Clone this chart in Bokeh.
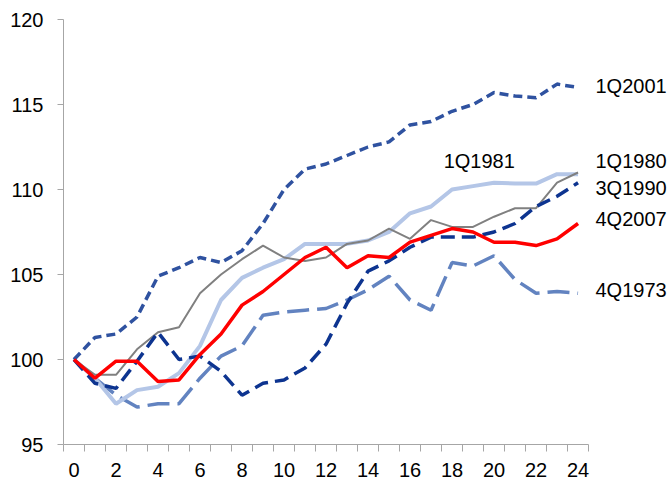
from bokeh.plotting import figure
from bokeh.models import Range1d, FixedTicker, Label
from bokeh.embed import file_html
from bokeh.resources import INLINE

quarters = list(range(0, 25))

s_4q1973 = [100, 98.9, 97.9, 97.2, 97.4, 97.4, 98.9, 100.2, 100.8, 102.6, 102.8, 102.9, 103.0,
            103.5, 104.1, 104.9, 103.5, 102.9, 105.7, 105.5, 106.1, 104.7, 103.9, 104.0, 103.9]
s_1q1981 = [100, 98.9, 97.4, 98.2, 98.4, 99.2, 100.8, 103.5, 104.8, 105.4, 105.9, 106.8, 106.8,
            106.8, 107.0, 107.5, 108.6, 109.0, 110.0, 110.2, 110.4, 110.35, 110.35, 110.9, 110.9]
s_1q1980 = [100, 99.1, 99.1, 100.6, 101.6, 101.9, 103.9, 105.0, 105.9, 106.7, 106.0, 105.8, 106.0,
            106.8, 107.0, 107.7, 107.1, 108.2, 107.8, 107.8, 108.4, 108.9, 108.9, 110.4, 111.0]
s_3q1990 = [100, 98.6, 98.3, 99.9, 101.6, 100.0, 100.2, 99.3, 97.9, 98.6, 98.8, 99.5, 100.9,
            103.3, 105.2, 105.8, 106.6, 107.2, 107.2, 107.2, 107.5, 108.0, 109.0, 109.6, 110.4]
s_1q2001 = [100, 101.3, 101.5, 102.5, 104.9, 105.4, 106.0, 105.7, 106.4, 108.0, 110.0, 111.2, 111.5,
            112.0, 112.5, 112.8, 113.8, 114.0, 114.6, 115.0, 115.7, 115.5, 115.4, 116.2, 116.0]
s_4q2007 = [100, 98.9, 99.9, 99.9, 98.7, 98.8, 100.3, 101.5, 103.2, 104.0, 105.0, 106.0, 106.6,
            105.4, 106.1, 106.0, 106.9, 107.3, 107.7, 107.5, 106.9, 106.9, 106.7, 107.1, 108.0]

x_tick_labels = [0, 2, 4, 6, 8, 10, 12, 14, 16, 18, 20, 22, 24]
y_ticks = [95, 100, 105, 110, 115, 120]

# label name, x position, y position
label_names = ["1Q2001", "1Q1980", "3Q1990", "4Q2007", "4Q1973", "1Q1981"]
label_x = [24.83, 24.83, 24.83, 24.83, 24.83, 17.6]
label_y = [116.1, 111.7, 110.1, 108.25, 104.1, 111.65]

p = figure(width=671, height=480, output_backend="svg", toolbar_location=None,
           x_range=Range1d(-0.5, 28.45), y_range=Range1d(95, 120),
           min_border_left=63, min_border_right=0, min_border_top=19, min_border_bottom=36)
p.outline_line_color = None
p.xgrid.visible = False
p.ygrid.visible = False
p.background_fill_color = "white"
p.border_fill_color = "white"

font = "Liberation Sans"
fsize = "20px"
axis_col = "#A6A6A6"

xa = p.xaxis[0]
xa.bounds = (-0.5, 24.5)
xa.ticker = FixedTicker(ticks=x_tick_labels, minor_ticks=[q - 0.5 for q in quarters] + [24.5])
xa.major_tick_out = 0
xa.major_tick_in = 0
xa.minor_tick_out = 7
xa.minor_tick_in = 0
xa.minor_tick_line_color = axis_col
xa.axis_line_color = axis_col
xa.major_label_standoff = 11
xa.major_label_text_font = font
xa.major_label_text_font_size = fsize
xa.major_label_text_color = "#000000"

ya = p.yaxis[0]
ya.ticker = FixedTicker(ticks=y_ticks)
ya.major_tick_out = 6
ya.major_tick_in = 0
ya.minor_tick_line_color = None
ya.major_tick_line_color = axis_col
ya.axis_line_color = axis_col
ya.major_label_standoff = 14
ya.major_label_text_font = font
ya.major_label_text_font_size = fsize
ya.major_label_text_color = "#000000"

p.line(quarters, s_4q1973, line_color="#6283C0", line_width=3.5, line_dash="22 8")
p.line(quarters, s_1q1981, line_color="#B4C6E7", line_width=4)
p.line(quarters, s_1q1980, line_color="#808080", line_width=2)
p.line(quarters, s_3q1990, line_color="#0D3490", line_width=3.5, line_dash="14 7")
p.line(quarters, s_1q2001, line_color="#2F52A0", line_width=3.5, line_dash="9 5")
p.line(quarters, s_4q2007, line_color="#FF0000", line_width=3.5)

for name, lx, ly in zip(label_names, label_x, label_y):
    p.add_layout(Label(x=lx, y=ly, text=name, text_font=font, text_font_size=fsize,
                       text_color="#000000", text_baseline="middle", text_align="left"))

open("out.html", "w").write(file_html(p, INLINE))
